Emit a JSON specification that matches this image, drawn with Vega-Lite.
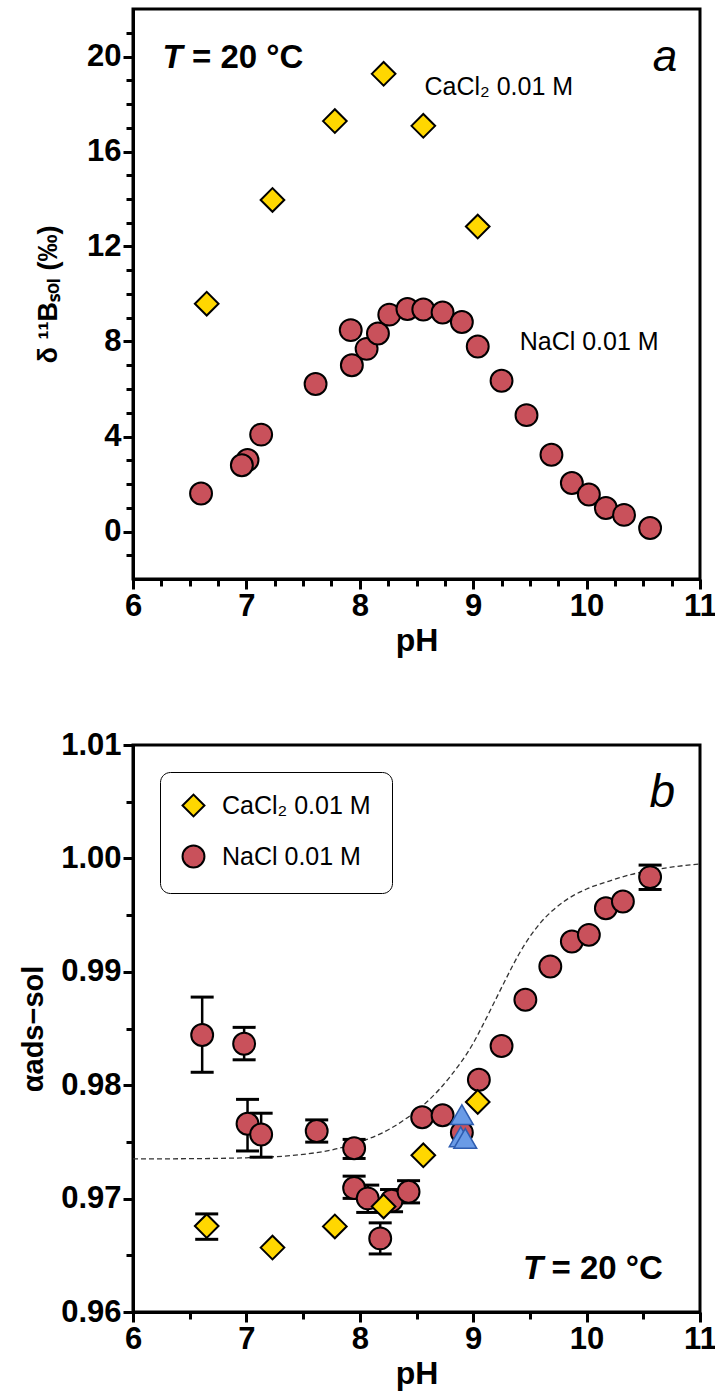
{
  "$schema": "https://vega.github.io/schema/vega-lite/v6.json",
  "padding": {"left": 18, "top": 7, "right": 0, "bottom": 0},
  "spacing": 69,
  "resolve": {"legend": {"color": "independent", "shape": "independent"}, "scale": {"color": "independent", "shape": "independent"}},
  "config": {
    "font": "Liberation Sans",
    "view": {"stroke": "black", "strokeWidth": 3},
    "axis": {
      "grid": false,
      "domainColor": "black", "domainWidth": 3,
      "tickColor": "black", "tickWidth": 3,
      "labelFont": "Liberation Sans", "labelFontWeight": "bold", "labelFontSize": 31, "labelColor": "black", "labelPadding": 2,
      "labelOverlap": false, "labelFlush": false,
      "titleFont": "Liberation Sans", "titleFontWeight": "bold", "titleFontSize": 32, "titleColor": "black"
    },
    "legend": {
      "orient": "top-left", "offset": 27, "fillColor": "white", "strokeColor": "black", "cornerRadius": 10,
      "padding": 21, "symbolSize": 480, "symbolStrokeColor": "black", "symbolStrokeWidth": 2,
      "labelFont": "Liberation Sans", "labelFontSize": 25, "labelColor": "black", "labelLimit": 400,
      "rowPadding": 20, "labelOffset": 16
    }
  },
  "datasets": {
    "a_cacl2": [
      {"pH": 6.65, "d11B": 9.59},
      {"pH": 7.23, "d11B": 13.96},
      {"pH": 7.78, "d11B": 17.28},
      {"pH": 8.21, "d11B": 19.27},
      {"pH": 8.56, "d11B": 17.08},
      {"pH": 9.04, "d11B": 12.84}
    ],
    "a_nacl": [
      {"pH": 6.60, "d11B": 1.60},
      {"pH": 7.01, "d11B": 3.01},
      {"pH": 6.96, "d11B": 2.79},
      {"pH": 7.13, "d11B": 4.08},
      {"pH": 7.61, "d11B": 6.21},
      {"pH": 7.92, "d11B": 8.48},
      {"pH": 7.93, "d11B": 7.00},
      {"pH": 8.06, "d11B": 7.69},
      {"pH": 8.16, "d11B": 8.34},
      {"pH": 8.26, "d11B": 9.13},
      {"pH": 8.42, "d11B": 9.37},
      {"pH": 8.56, "d11B": 9.35},
      {"pH": 8.73, "d11B": 9.22},
      {"pH": 8.90, "d11B": 8.82},
      {"pH": 9.04, "d11B": 7.79},
      {"pH": 9.25, "d11B": 6.35},
      {"pH": 9.47, "d11B": 4.90},
      {"pH": 9.69, "d11B": 3.23},
      {"pH": 9.87, "d11B": 2.04},
      {"pH": 10.02, "d11B": 1.56},
      {"pH": 10.17, "d11B": 0.99},
      {"pH": 10.33, "d11B": 0.70},
      {"pH": 10.56, "d11B": 0.15}
    ],
    "b_points": [
      {"series": "NaCl 0.01 M", "pH": 6.61, "alpha": 0.98443},
      {"series": "NaCl 0.01 M", "pH": 6.98, "alpha": 0.98365},
      {"series": "NaCl 0.01 M", "pH": 7.01, "alpha": 0.97660},
      {"series": "NaCl 0.01 M", "pH": 7.13, "alpha": 0.97565},
      {"series": "NaCl 0.01 M", "pH": 7.62, "alpha": 0.97596},
      {"series": "NaCl 0.01 M", "pH": 7.95, "alpha": 0.97444},
      {"series": "NaCl 0.01 M", "pH": 7.95, "alpha": 0.97094},
      {"series": "NaCl 0.01 M", "pH": 8.07, "alpha": 0.97002},
      {"series": "NaCl 0.01 M", "pH": 8.18, "alpha": 0.96649},
      {"series": "NaCl 0.01 M", "pH": 8.28, "alpha": 0.96982},
      {"series": "NaCl 0.01 M", "pH": 8.43, "alpha": 0.97060},
      {"series": "NaCl 0.01 M", "pH": 8.55, "alpha": 0.97718},
      {"series": "NaCl 0.01 M", "pH": 8.73, "alpha": 0.97735},
      {"series": "NaCl 0.01 M", "pH": 8.90, "alpha": 0.97582},
      {"series": "NaCl 0.01 M", "pH": 9.05, "alpha": 0.98048},
      {"series": "NaCl 0.01 M", "pH": 9.25, "alpha": 0.98346},
      {"series": "NaCl 0.01 M", "pH": 9.46, "alpha": 0.98754},
      {"series": "NaCl 0.01 M", "pH": 9.68, "alpha": 0.99047},
      {"series": "NaCl 0.01 M", "pH": 9.87, "alpha": 0.99267},
      {"series": "NaCl 0.01 M", "pH": 10.02, "alpha": 0.99326},
      {"series": "NaCl 0.01 M", "pH": 10.17, "alpha": 0.99561},
      {"series": "NaCl 0.01 M", "pH": 10.32, "alpha": 0.99620},
      {"series": "NaCl 0.01 M", "pH": 10.56, "alpha": 0.99835},
      {"series": "CaCl₂ 0.01 M", "pH": 6.65, "alpha": 0.96758},
      {"series": "CaCl₂ 0.01 M", "pH": 7.23, "alpha": 0.96568},
      {"series": "CaCl₂ 0.01 M", "pH": 7.78, "alpha": 0.96755},
      {"series": "CaCl₂ 0.01 M", "pH": 8.21, "alpha": 0.96931},
      {"series": "CaCl₂ 0.01 M", "pH": 8.56, "alpha": 0.97382},
      {"series": "CaCl₂ 0.01 M", "pH": 9.04, "alpha": 0.97852}
    ],
    "b_err": [
      {"pH": 6.61, "lo": 0.98114, "hi": 0.98777},
      {"pH": 6.98, "lo": 0.98224, "hi": 0.98510},
      {"pH": 7.01, "lo": 0.97420, "hi": 0.97875},
      {"pH": 7.13, "lo": 0.97365, "hi": 0.97753},
      {"pH": 7.62, "lo": 0.97498, "hi": 0.97694},
      {"pH": 7.95, "lo": 0.97354, "hi": 0.97522},
      {"pH": 7.95, "lo": 0.97002, "hi": 0.97198},
      {"pH": 8.07, "lo": 0.96878, "hi": 0.97119},
      {"pH": 8.18, "lo": 0.96512, "hi": 0.96786},
      {"pH": 8.28, "lo": 0.96884, "hi": 0.97080},
      {"pH": 8.43, "lo": 0.96962, "hi": 0.97158},
      {"pH": 10.56, "lo": 0.99726, "hi": 0.99941},
      {"pH": 6.65, "lo": 0.96641, "hi": 0.96865}
    ],
    "b_tri": [
      {"pH": 8.90, "alpha": 0.97740},
      {"pH": 8.89, "alpha": 0.97545},
      {"pH": 8.93, "alpha": 0.97530}
    ],
    "b_curve": [
      {"pH": 6.0, "alpha": 0.97350},
      {"pH": 6.5, "alpha": 0.97352},
      {"pH": 7.0, "alpha": 0.97360},
      {"pH": 7.5, "alpha": 0.97390},
      {"pH": 7.8, "alpha": 0.97440},
      {"pH": 8.0, "alpha": 0.97500},
      {"pH": 8.2, "alpha": 0.97580},
      {"pH": 8.4, "alpha": 0.97700},
      {"pH": 8.6, "alpha": 0.97860},
      {"pH": 8.8, "alpha": 0.98080},
      {"pH": 9.0, "alpha": 0.98370},
      {"pH": 9.1, "alpha": 0.98560},
      {"pH": 9.2, "alpha": 0.98760},
      {"pH": 9.3, "alpha": 0.98960},
      {"pH": 9.4, "alpha": 0.99150},
      {"pH": 9.5, "alpha": 0.99310},
      {"pH": 9.6, "alpha": 0.99440},
      {"pH": 9.7, "alpha": 0.99540},
      {"pH": 9.8, "alpha": 0.99620},
      {"pH": 10.0, "alpha": 0.99730},
      {"pH": 10.2, "alpha": 0.99800},
      {"pH": 10.4, "alpha": 0.99860},
      {"pH": 10.6, "alpha": 0.99900},
      {"pH": 10.8, "alpha": 0.99930},
      {"pH": 11.0, "alpha": 0.99950}
    ]
  },
  "vconcat": [
    {
      "width": 567,
      "height": 570,
      "encoding": {
        "x": {"field": "pH", "type": "quantitative",
          "scale": {"domain": [6, 11], "nice": false, "zero": false},
          "axis": {"title": "pH", "titlePadding": 4,
            "values": [6, 6.25, 6.5, 6.75, 7, 7.25, 7.5, 7.75, 8, 8.25, 8.5, 8.75, 9, 9.25, 9.5, 9.75, 10, 10.25, 10.5, 10.75, 11],
            "labelExpr": "datum.value % 1 === 0 ? format(datum.value, 'd') : ''",
            "tickSize": {"condition": {"test": "datum.value % 1 === 0", "value": 10}, "value": 7}}},
        "y": {"field": "d11B", "type": "quantitative",
          "scale": {"domain": [-2, 22], "nice": false, "zero": false},
          "axis": {"title": "δ ¹¹Bₛₒₗ (‰)", "titleFontSize": 27, "titlePadding": 24,
            "values": [-1, 0, 1, 2, 3, 4, 5, 6, 7, 8, 9, 10, 11, 12, 13, 14, 15, 16, 17, 18, 19, 20, 21],
            "labelExpr": "abs(datum.value / 4 - round(datum.value / 4)) < 0.01 ? format(datum.value, 'd') : ''",
            "tickSize": {"condition": {"test": "abs(datum.value / 4 - round(datum.value / 4)) < 0.01", "value": 10}, "value": 7}}}
      },
      "layer": [
        {"data": {"name": "a_cacl2"},
         "mark": {"type": "point", "shape": "diamond", "filled": true, "fill": "#FFD700", "stroke": "black", "strokeWidth": 2, "size": 560, "opacity": 1}},
        {"data": {"name": "a_nacl"},
         "mark": {"type": "point", "shape": "circle", "filled": true, "fill": "#C9515B", "stroke": "black", "strokeWidth": 2, "size": 480, "opacity": 1}},
        {"data": {"values": [{"label": "T", "pH": 6.26, "d11B": 19.5}]},
         "mark": {"type": "text", "fontStyle": "italic", "fontWeight": "bold", "fontSize": 33, "align": "left", "baseline": "alphabetic", "fill": "black"},
         "encoding": {"text": {"field": "label"}}},
        {"data": {"values": [{"label": "= 20 °C", "pH": 6.52, "d11B": 19.5}]},
         "mark": {"type": "text", "fontWeight": "bold", "fontSize": 33, "align": "left", "baseline": "alphabetic", "fill": "black"},
         "encoding": {"text": {"field": "label"}}},
        {"data": {"values": [{"label": "a", "pH": 10.8, "d11B": 19.4}]},
         "mark": {"type": "text", "fontStyle": "italic", "fontSize": 44, "align": "right", "baseline": "alphabetic", "fill": "black"},
         "encoding": {"text": {"field": "label"}}},
        {"data": {"values": [{"label": "CaCl₂ 0.01 M", "pH": 8.57, "d11B": 18.37}]},
         "mark": {"type": "text", "fontSize": 25, "align": "left", "baseline": "alphabetic", "fill": "black"},
         "encoding": {"text": {"field": "label"}}},
        {"data": {"values": [{"label": "NaCl 0.01 M", "pH": 9.41, "d11B": 7.66}]},
         "mark": {"type": "text", "fontSize": 25, "align": "left", "baseline": "alphabetic", "fill": "black"},
         "encoding": {"text": {"field": "label"}}}
      ]
    },
    {
      "width": 567,
      "height": 567,
      "layer": [
        {"data": {"name": "b_curve"},
         "mark": {"type": "line", "stroke": "#333333", "strokeWidth": 1.3, "strokeDash": [5, 3], "interpolate": "monotone"},
         "encoding": {
           "x": {"field": "pH", "type": "quantitative",
             "scale": {"domain": [6, 11], "nice": false, "zero": false},
             "axis": {"title": "pH", "titlePadding": 4,
               "values": [6, 6.25, 6.5, 6.75, 7, 7.25, 7.5, 7.75, 8, 8.25, 8.5, 8.75, 9, 9.25, 9.5, 9.75, 10, 10.25, 10.5, 10.75, 11],
               "labelExpr": "datum.value % 1 === 0 ? format(datum.value, 'd') : ''",
               "tickSize": {"condition": {"test": "datum.value % 1 === 0", "value": 10}, "value": 7}}},
           "y": {"field": "alpha", "type": "quantitative",
             "scale": {"domain": [0.96, 1.01], "nice": false, "zero": false},
             "axis": {"title": "αads−sol", "titleFontSize": 29, "titlePadding": 12,
               "values": [0.96, 0.9625, 0.965, 0.9675, 0.97, 0.9725, 0.975, 0.9775, 0.98, 0.9825, 0.985, 0.9875, 0.99, 0.9925, 0.995, 0.9975, 1.0, 1.0025, 1.005, 1.0075, 1.01],
               "labelExpr": "abs(datum.value * 100 - round(datum.value * 100)) < 0.01 ? format(datum.value, '.2f') : ''",
               "tickSize": {"condition": {"test": "abs(datum.value * 100 - round(datum.value * 100)) < 0.01", "value": 10}, "value": 7}}}
         }},
        {"data": {"name": "b_err"},
         "mark": {"type": "rule", "stroke": "black", "strokeWidth": 2.5},
         "encoding": {"x": {"field": "pH", "type": "quantitative"}, "y": {"field": "lo", "type": "quantitative"}, "y2": {"field": "hi"}}},
        {"data": {"name": "b_err"},
         "mark": {"type": "tick", "orient": "horizontal", "color": "black", "size": 23, "thickness": 3, "opacity": 1},
         "encoding": {"x": {"field": "pH", "type": "quantitative"}, "y": {"field": "lo", "type": "quantitative"}}},
        {"data": {"name": "b_err"},
         "mark": {"type": "tick", "orient": "horizontal", "color": "black", "size": 23, "thickness": 3, "opacity": 1},
         "encoding": {"x": {"field": "pH", "type": "quantitative"}, "y": {"field": "hi", "type": "quantitative"}}},
        {"data": {"name": "b_points"},
         "transform": [{"filter": "datum.series === 'NaCl 0.01 M'"}],
         "mark": {"type": "point", "filled": true, "stroke": "black", "strokeWidth": 2, "size": 480, "opacity": 1},
         "encoding": {
           "x": {"field": "pH", "type": "quantitative"},
           "y": {"field": "alpha", "type": "quantitative"},
           "color": {"field": "series", "type": "nominal", "scale": {"domain": ["CaCl₂ 0.01 M", "NaCl 0.01 M"], "range": ["#FFD700", "#C9515B"]}, "legend": {"title": null}},
           "shape": {"field": "series", "type": "nominal", "scale": {"domain": ["CaCl₂ 0.01 M", "NaCl 0.01 M"], "range": ["diamond", "circle"]}, "legend": {"title": null}}
         }},
        {"data": {"name": "b_points"},
         "transform": [{"filter": "datum.series !== 'NaCl 0.01 M'"}],
         "mark": {"type": "point", "filled": true, "stroke": "black", "strokeWidth": 2, "size": 560, "opacity": 1},
         "encoding": {
           "x": {"field": "pH", "type": "quantitative"},
           "y": {"field": "alpha", "type": "quantitative"},
           "color": {"field": "series", "type": "nominal", "scale": {"domain": ["CaCl₂ 0.01 M", "NaCl 0.01 M"], "range": ["#FFD700", "#C9515B"]}, "legend": {"title": null}},
           "shape": {"field": "series", "type": "nominal", "scale": {"domain": ["CaCl₂ 0.01 M", "NaCl 0.01 M"], "range": ["diamond", "circle"]}, "legend": {"title": null}}
         }},
        {"data": {"name": "b_tri"},
         "mark": {"type": "point", "shape": "triangle-up", "filled": true, "fill": "#6A9BE6", "stroke": "#2E5DB0", "strokeWidth": 1.5, "size": 520, "opacity": 1},
         "encoding": {"x": {"field": "pH", "type": "quantitative"}, "y": {"field": "alpha", "type": "quantitative"}}},
        {"data": {"values": [{"label": "b"}]},
         "mark": {"type": "text", "fontStyle": "italic", "fontSize": 46, "align": "right", "baseline": "alphabetic", "fill": "black"},
         "encoding": {"x": {"datum": 10.78, "type": "quantitative"}, "y": {"datum": 1.0045, "type": "quantitative"}, "text": {"field": "label"}}},
        {"data": {"values": [{"label": "T"}]},
         "mark": {"type": "text", "fontStyle": "italic", "fontWeight": "bold", "fontSize": 33, "align": "left", "baseline": "alphabetic", "fill": "black"},
         "encoding": {"x": {"datum": 9.44, "type": "quantitative"}, "y": {"datum": 0.96294, "type": "quantitative"}, "text": {"field": "label"}}},
        {"data": {"values": [{"label": "= 20 °C"}]},
         "mark": {"type": "text", "fontWeight": "bold", "fontSize": 33, "align": "left", "baseline": "alphabetic", "fill": "black"},
         "encoding": {"x": {"datum": 9.69, "type": "quantitative"}, "y": {"datum": 0.96294, "type": "quantitative"}, "text": {"field": "label"}}}
      ]
    }
  ]
}
